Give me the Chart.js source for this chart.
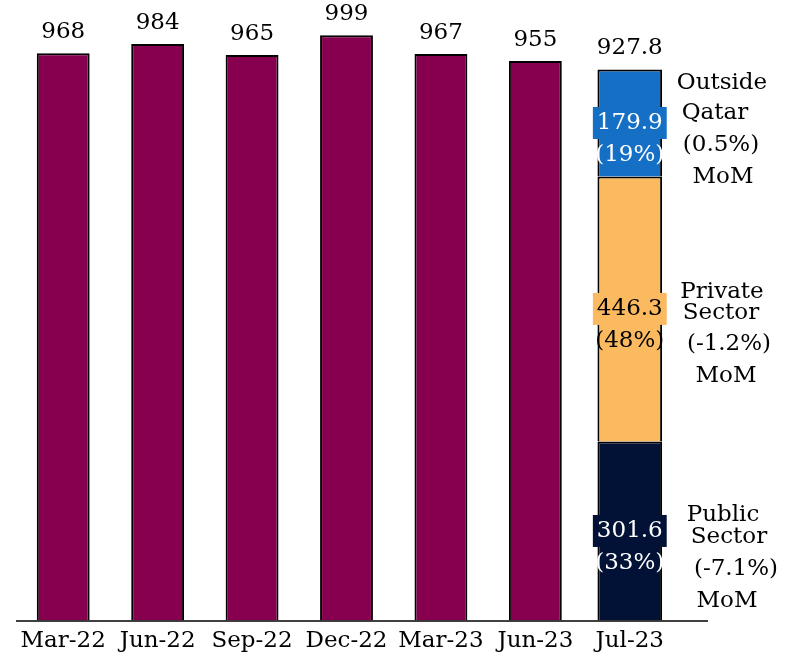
<!DOCTYPE html>
<html>
<head>
<meta charset="utf-8">
<script src="https://cdn.jsdelivr.net/npm/chart.js@4/dist/chart.umd.min.js"></script>
<style>
  body { margin: 0; background: #fff; }
  canvas { display: block; }
</style>
</head>
<body>
<canvas id="grafica" width="792" height="662"></canvas>
<script>
// Datos del grafico
const categorias = ['Mar-22', 'Jun-22', 'Sep-22', 'Dec-22', 'Mar-23', 'Jun-23', 'Jul-23'];
const totales = [968, 984, 965, 999, 967, 955];
const julTotal = 927.8;
const sectores = ['Public Sector', 'Private Sector', 'Outside Qatar'];
const sectorValores = [301.6, 446.3, 179.9];
const sectorPorcentajes = ['(33%)', '(48%)', '(19%)'];
const sectorMoM = ['(-7.1%)', '(-1.2%)', '(0.5%)'];

// Colores
const colorTotal = '#870050';
const coloresSector = ['#021236', '#fbb960', '#1570c5'];
const coloresTexto = ['#ffffff', '#000000', '#ffffff'];
const fuente = '"DejaVu Serif", serif';

// posicion de las lineas de texto a la derecha (x, dy respecto al centro del segmento)
const posAnotaciones = [
  [[723, -16], [729, 6], [736, 38], [727, 70]],
  [[722, -17], [721, 4], [729, 35], [726, 67]],
  [[722, -40], [715, -10], [721, 22], [723, 54]]
];

const vacios = totales.map(() => null);

const datasets = [{
  label: 'Total',
  data: [...totales, null],
  backgroundColor: colorTotal,
  yAxisID: 'y',
  barPercentage: 0.56
}];

sectores.forEach((nombre, k) => {
  datasets.push({
    label: nombre,
    data: [...vacios, sectorValores[k]],
    backgroundColor: coloresSector[k],
    yAxisID: 'y2',
    stack: 'jul',
    barPercentage: 0.685
  });
});

datasets.forEach(d => {
  d.borderColor = '#000';
  d.borderWidth = 2;
  d.categoryPercentage = 1;
  d.grouped = false;
});

// Plugin para las etiquetas de valores y las anotaciones
const etiquetasPlugin = {
  id: 'etiquetas',
  afterDatasetsDraw(chart) {
    const ctx = chart.ctx;
    ctx.save();
    ctx.font = '23px ' + fuente;
    ctx.textAlign = 'center';
    ctx.textBaseline = 'middle';

    // valores encima de las barras
    ctx.fillStyle = '#000';
    chart.getDatasetMeta(0).data.forEach((bar, i) => {
      if (totales[i] == null) return;
      ctx.fillText(String(totales[i]), bar.x, bar.y - 21);
    });
    const ultima = chart.getDatasetMeta(sectores.length).data[categorias.length - 1];
    ctx.fillText(julTotal.toFixed(1), ultima.x, ultima.y - 22);

    // segmentos de Jul-23
    sectores.forEach((nombre, k) => {
      const bar = chart.getDatasetMeta(k + 1).data[categorias.length - 1];
      const centro = (bar.y + bar.base) / 2;
      const txt = sectorValores[k].toFixed(1);
      const w = ctx.measureText(txt).width + 8;
      ctx.fillStyle = coloresSector[k];
      ctx.fillRect(bar.x - w / 2, centro - 16, w, 32);
      ctx.fillStyle = coloresTexto[k];
      ctx.fillText(txt, bar.x, centro);
      ctx.fillText(sectorPorcentajes[k], bar.x, centro + 32);

      // anotacion a la derecha
      const lineas = [...nombre.split(' '), sectorMoM[k], 'MoM'];
      ctx.fillStyle = '#000';
      lineas.forEach((linea, j) => {
        const p = posAnotaciones[k][j];
        ctx.fillText(linea, p[0], centro + p[1]);
      });
    });

    // linea base
    ctx.strokeStyle = '#000';
    ctx.lineWidth = 1.5;
    ctx.beginPath();
    ctx.moveTo(chart.chartArea.left, chart.chartArea.bottom + 0.5);
    ctx.lineTo(708, chart.chartArea.bottom + 0.5);
    ctx.stroke();
    ctx.restore();
  }
};

new Chart(document.getElementById('grafica'), {
  type: 'bar',
  data: { labels: categorias, datasets: datasets },
  options: {
    responsive: false,
    animation: false,
    layout: { padding: { left: 16, right: 115, top: 0, bottom: 1 } },
    scales: {
      x: {
        grid: { display: false, drawTicks: false },
        border: { display: false },
        ticks: { color: '#000', font: { family: fuente, size: 23, lineHeight: 1.5 }, padding: 3 }
      },
      y: { display: false, min: 0, max: 1059 },
      y2: { display: false, stacked: true, min: 0, max: 1045 }
    },
    plugins: {
      legend: { display: false },
      tooltip: { enabled: false }
    }
  },
  plugins: [etiquetasPlugin]
});
</script>
</body>
</html>
